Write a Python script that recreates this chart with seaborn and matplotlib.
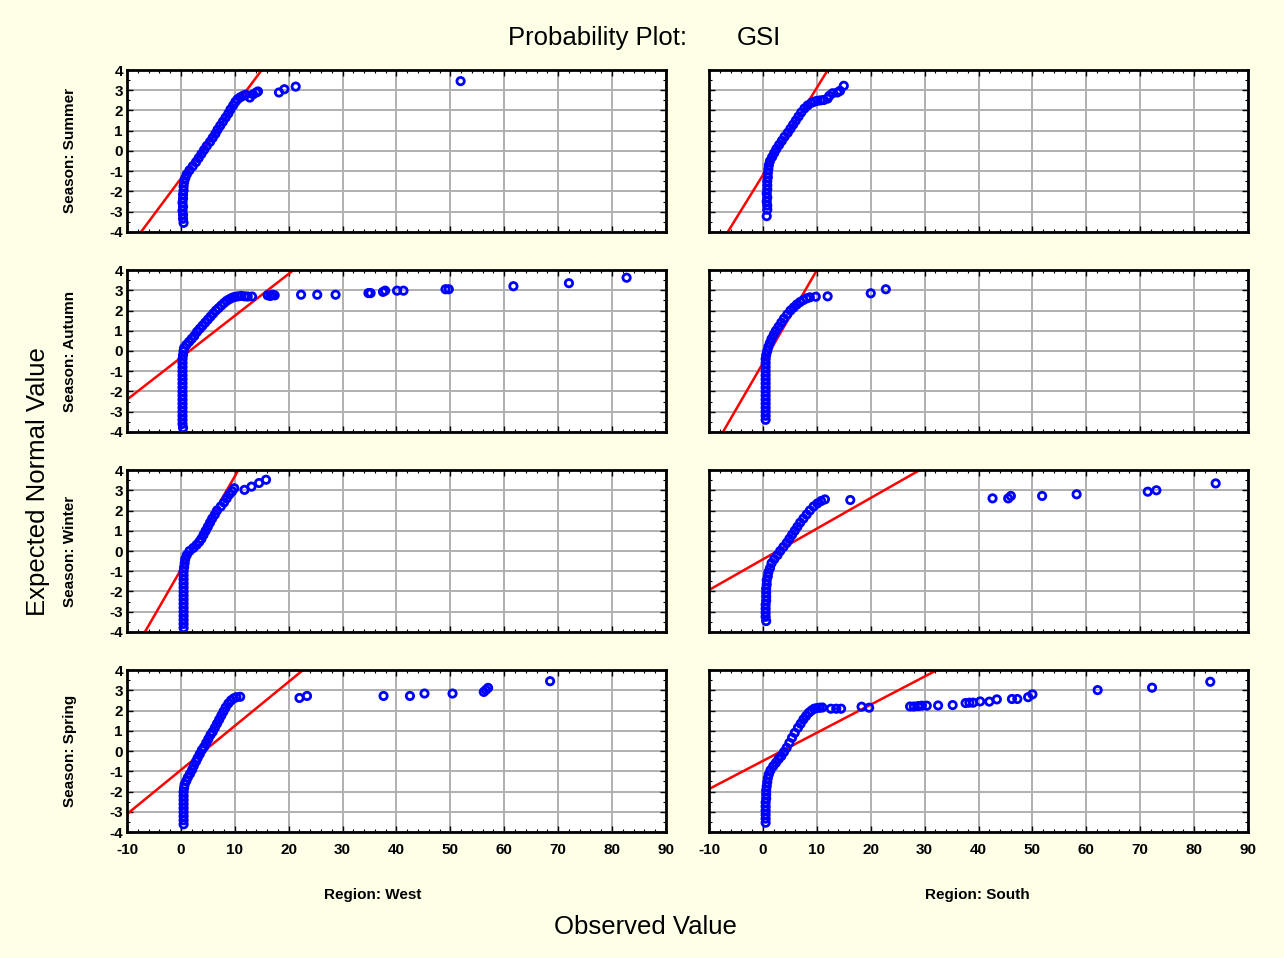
import numpy as np
import pandas as pd
import seaborn as sns
import matplotlib.pyplot as plt
from matplotlib.ticker import MultipleLocator

# panel layout: rows are seasons, columns are regions
seasons = ['Summer', 'Autumn', 'Winter', 'Spring']
regions = ['West', 'South']

summer_west_obs = [0.5, 0.4, 0.4, 0.3, 0.4, 0.3, 0.4, 0.4, 0.5, 0.5, 0.6,
                   0.8, 1.1, 1.6, 2.2, 2.8, 3.3, 3.8, 4.3, 4.8, 5.4, 5.9, 6.4, 6.8, 7.3, 7.8, 8.3,
                   8.8, 9.2, 9.7, 10.1, 10.5, 11.0, 11.5, 12.0,
                   12.8, 13.4, 14.0, 14.3, 18.2, 19.2, 21.3, 51.9]
summer_west_exp = [-3.55, -3.35, -3.15, -2.95, -2.75, -2.55, -2.35, -2.15, -1.95, -1.75, -1.55,
                   -1.35, -1.15, -0.95, -0.75, -0.55, -0.35, -0.15, 0.05, 0.25, 0.45, 0.65, 0.85, 1.05,
                   1.25, 1.45, 1.65, 1.85, 2.05, 2.25, 2.42, 2.55, 2.65, 2.72, 2.78,
                   2.64, 2.8, 2.89, 2.94, 2.89, 3.05, 3.18, 3.45]

summer_south_obs = [0.7, 0.8, 0.8, 0.7, 0.8, 0.7, 0.8, 0.8, 0.8, 0.9, 0.9,
                    1.0, 1.1, 1.3, 1.7, 2.1, 2.5, 3.0, 3.5, 4.0, 4.6, 5.1, 5.6, 6.1, 6.6, 7.1, 7.7, 8.3, 9.0,
                    9.6, 10.1, 10.7, 11.3, 12.0, 12.3, 12.9, 13.8, 14.3, 15.0]
summer_south_exp = [-3.22, -2.9, -2.7, -2.5, -2.3, -2.1, -1.9, -1.7, -1.5, -1.3, -1.1,
                    -0.9, -0.7, -0.5, -0.3, -0.1, 0.1, 0.3, 0.5, 0.7, 0.9, 1.1, 1.3, 1.5, 1.7, 1.9, 2.1, 2.25, 2.38,
                    2.44, 2.48, 2.5, 2.52, 2.59, 2.72, 2.85, 2.89, 2.97, 3.22]

autumn_west_obs = [0.4, 0.3, 0.3, 0.3, 0.3, 0.3, 0.3, 0.3, 0.3, 0.3, 0.3, 0.3, 0.3, 0.3, 0.3, 0.3, 0.3, 0.3,
                   0.4, 0.5, 0.6,
                   1.0, 1.5, 2.0, 2.5, 3.0, 3.5, 4.0, 4.5, 5.0, 5.5, 6.0, 6.5, 7.0, 7.5, 8.0, 8.5, 9.0, 9.5,
                   10.0, 10.6, 11.2, 11.8, 12.4, 13.2,
                   16.1, 16.6, 17.0, 17.4, 22.3, 25.3, 28.7, 34.8, 35.2, 37.5, 37.9, 40.1, 41.3, 49.1, 49.7,
                   61.7, 72.0, 82.7]
autumn_west_exp = [-3.8, -3.6, -3.4, -3.2, -3.0, -2.8, -2.6, -2.4, -2.2, -2.0, -1.8, -1.6, -1.4, -1.2, -1.0,
                   -0.8, -0.6, -0.4, -0.2, 0.0, 0.15,
                   0.3, 0.45, 0.6, 0.75, 0.95, 1.1, 1.25, 1.4, 1.55, 1.7, 1.85, 2.0, 2.12, 2.25, 2.37, 2.48,
                   2.56, 2.63, 2.67, 2.7, 2.72, 2.7, 2.69, 2.69,
                   2.75, 2.72, 2.78, 2.75, 2.78, 2.78, 2.78, 2.86, 2.86, 2.92, 2.98, 2.98, 2.98, 3.05, 3.05,
                   3.2, 3.35, 3.62]

autumn_south_obs = [0.5, 0.5, 0.5, 0.5, 0.5, 0.5, 0.5, 0.5, 0.5, 0.5, 0.5, 0.5, 0.5, 0.5, 0.5, 0.5,
                    0.6, 0.8, 1.0, 1.3, 1.6, 2.0, 2.4, 2.9, 3.4, 3.9, 4.5, 5.1, 5.7, 6.3, 6.9, 7.5, 8.1, 8.7,
                    9.8, 12.0, 20.0, 22.8]
autumn_south_exp = [-3.4, -3.2, -3.0, -2.8, -2.6, -2.4, -2.2, -2.0, -1.8, -1.6, -1.4, -1.2, -1.0, -0.8,
                    -0.6, -0.4,
                    -0.2, 0.0, 0.2, 0.4, 0.6, 0.8, 1.0, 1.2, 1.4, 1.6, 1.8, 2.0, 2.15, 2.3, 2.42, 2.52, 2.6, 2.65,
                    2.68, 2.7, 2.85, 3.05]

winter_west_obs = [0.5, 0.5, 0.5, 0.5, 0.5, 0.5, 0.5, 0.5, 0.5, 0.5, 0.5, 0.5, 0.5, 0.5, 0.5,
                   0.6, 0.7, 0.8, 1.1, 1.6, 2.3, 2.9, 3.4, 3.8, 4.2, 4.6, 5.0, 5.4, 5.8, 6.3, 6.7, 7.4, 8.0,
                   8.5, 9.0, 9.5, 9.9,
                   11.8, 13.1, 14.5, 15.8]
winter_west_exp = [-3.8, -3.6, -3.4, -3.2, -3.0, -2.8, -2.6, -2.4, -2.2, -2.0, -1.8, -1.6, -1.4, -1.2, -1.0,
                   -0.8, -0.6, -0.4, -0.2, 0.0, 0.15, 0.3, 0.45, 0.6, 0.8, 1.0, 1.2, 1.4, 1.6, 1.8, 2.0, 2.2,
                   2.4, 2.6, 2.8, 2.95, 3.1,
                   3.02, 3.18, 3.36, 3.52]

winter_south_obs = [0.6, 0.5, 0.5, 0.5, 0.5, 0.6, 0.6, 0.6, 0.6, 0.7, 0.7, 0.9,
                    1.0, 1.3, 1.6, 2.1, 2.7, 3.2, 3.8, 4.4, 4.9, 5.4, 5.9, 6.4, 6.9, 7.5, 8.1, 8.7, 9.4,
                    10.1, 10.8, 11.5,
                    16.2, 42.6, 45.5, 46.0, 51.8, 58.2, 71.4, 73.0, 84.0]
winter_south_exp = [-3.46, -3.25, -3.05, -2.85, -2.65, -2.45, -2.25, -2.05, -1.85, -1.65, -1.45, -1.25,
                    -1.05, -0.85, -0.6, -0.4, -0.2, 0.0, 0.2, 0.4, 0.6, 0.8, 1.0, 1.2, 1.4, 1.6, 1.8, 2.0,
                    2.2, 2.35, 2.47, 2.55,
                    2.52, 2.6, 2.6, 2.72, 2.72, 2.8, 2.93, 3.0, 3.34]

spring_west_obs = [0.5, 0.5, 0.5, 0.5, 0.5, 0.5, 0.5, 0.5, 0.5, 0.6,
                   0.7, 1.0, 1.3, 1.7, 2.1, 2.4, 2.8, 3.1, 3.5, 3.9, 4.3, 4.7, 5.1, 5.5, 5.9, 6.3, 6.7, 7.1,
                   7.5, 7.9, 8.3, 8.8, 9.3, 9.8, 10.3, 11.0,
                   22.0, 23.4, 37.6, 42.5, 45.2, 50.4, 56.2, 56.6, 57.0, 68.5]
spring_west_exp = [-3.62, -3.42, -3.22, -3.02, -2.82, -2.62, -2.42, -2.22, -2.02, -1.82,
                   -1.65, -1.48, -1.3, -1.12, -0.92, -0.72, -0.52, -0.35, -0.15, 0.05, 0.2, 0.4, 0.6, 0.8,
                   0.95, 1.15, 1.35, 1.55, 1.75, 1.95, 2.15, 2.35, 2.5, 2.6, 2.66, 2.68,
                   2.62, 2.72, 2.72, 2.72, 2.84, 2.84, 2.92, 3.02, 3.12, 3.45]

spring_south_obs = [0.5, 0.5, 0.5, 0.5, 0.5, 0.5, 0.6, 0.6, 0.6, 0.7, 0.8, 0.9,
                    1.1, 1.4, 1.9, 2.4, 2.9, 3.4, 3.9, 4.4, 4.9, 5.4, 5.9, 6.5, 7.0, 7.5, 8.0, 8.5, 9.0,
                    9.5, 10.0, 10.5, 11.0,
                    12.6, 13.6, 14.5, 18.3, 19.7, 27.3, 28.0, 28.8, 29.5, 30.4, 32.5, 35.2, 37.6, 38.3,
                    39.0, 40.3, 42.0, 43.4, 46.2, 47.2, 49.2, 50.0, 62.1, 72.2, 83.0]
spring_south_exp = [-3.54, -3.34, -3.14, -2.94, -2.74, -2.54, -2.34, -2.14, -1.94, -1.74, -1.54, -1.34,
                    -1.15, -0.95, -0.75, -0.58, -0.4, -0.25, -0.05, 0.16, 0.4, 0.66, 0.9, 1.15, 1.35, 1.56,
                    1.73, 1.89, 2.0, 2.09, 2.12, 2.14, 2.15,
                    2.09, 2.09, 2.09, 2.19, 2.14, 2.2, 2.2, 2.22, 2.24, 2.24, 2.25, 2.27, 2.37, 2.39,
                    2.39, 2.45, 2.44, 2.55, 2.57, 2.57, 2.66, 2.8, 3.01, 3.13, 3.42]

# fitted normal reference line per panel: expected = (observed - mean) / sd
fit_mean_west = [3.8, 1.6, 2.0, 4.3]
fit_sd_west = [2.8, 4.83, 2.17, 4.59]
fit_mean_south = [2.75, 1.3, 2.7, 3.5]
fit_sd_south = [2.32, 2.18, 6.6, 7.2]

x_range = [-10, 90]

# long-form table
panels = {
    ('Summer', 'West'): (summer_west_obs, summer_west_exp),
    ('Summer', 'South'): (summer_south_obs, summer_south_exp),
    ('Autumn', 'West'): (autumn_west_obs, autumn_west_exp),
    ('Autumn', 'South'): (autumn_south_obs, autumn_south_exp),
    ('Winter', 'West'): (winter_west_obs, winter_west_exp),
    ('Winter', 'South'): (winter_south_obs, winter_south_exp),
    ('Spring', 'West'): (spring_west_obs, spring_west_exp),
    ('Spring', 'South'): (spring_south_obs, spring_south_exp),
}
df = pd.concat([pd.DataFrame({'Season': s, 'Region': r, 'Observed': o, 'Expected': e})
                for (s, r), (o, e) in panels.items()], ignore_index=True)

fits = {}
for i, s in enumerate(seasons):
    fits[(s, 'West')] = (fit_mean_west[i], fit_sd_west[i])
    fits[(s, 'South')] = (fit_mean_south[i], fit_sd_south[i])

sns.set_theme(style='white')
plt.rcParams['font.family'] = ['Liberation Sans', 'DejaVu Sans']
plt.rcParams['font.weight'] = 'bold'
plt.rcParams['axes.unicode_minus'] = False
plt.rcParams['text.color'] = 'black'
plt.rcParams['xtick.color'] = 'black'
plt.rcParams['ytick.color'] = 'black'

bg = '#ffffe8'
fig, axes = plt.subplots(4, 2, figsize=(12.84, 9.58), dpi=100, sharex=True, sharey=True)
fig.patch.set_facecolor(bg)
fig.subplots_adjust(left=127 / 1284, right=1248 / 1284, top=1 - 70 / 958, bottom=1 - 832 / 958,
                    wspace=0.08, hspace=0.235)

for i, season in enumerate(seasons):
    for j, region in enumerate(regions):
        ax = axes[i, j]
        ax.set_facecolor('white')
        sub = df[(df['Season'] == season) & (df['Region'] == region)]

        mu, sd = fits[(season, region)]
        line_x = np.array(x_range, dtype=float)
        sns.lineplot(x=line_x, y=(line_x - mu) / sd, ax=ax, color='red', linewidth=1.8, zorder=2)

        sns.scatterplot(data=sub, x='Observed', y='Expected', ax=ax, marker='o', s=28,
                        color='blue', facecolor='none', edgecolor='blue', linewidth=2.0, zorder=3)

        ax.set_xlim(-10, 90)
        ax.set_ylim(-4, 4)
        ax.xaxis.set_major_locator(MultipleLocator(10))
        ax.xaxis.set_minor_locator(MultipleLocator(2))
        ax.yaxis.set_major_locator(MultipleLocator(1))
        ax.yaxis.set_minor_locator(MultipleLocator(0.5))
        ax.grid(True, which='major', color='#b0b0b0', linewidth=1.4, zorder=0)
        ax.set_axisbelow(True)
        ax.tick_params(which='major', direction='in', length=4, width=1, color='black',
                       labelcolor='black', top=True, right=True, bottom=True, left=True, labelsize=11)
        ax.tick_params(which='minor', direction='in', length=2.5, width=0.8, color='black',
                       top=True, right=True, bottom=True, left=True)
        ax.tick_params(axis='x', pad=8)
        ax.tick_params(axis='y', pad=3)
        for sp in ax.spines.values():
            sp.set_color('black')
            sp.set_linewidth(2)
        ax.set_xlabel('')
        ax.set_ylabel('')

        if j == 0:
            pos = ax.get_position()
            fig.text(70 / 1284, (pos.y0 + pos.y1) / 2, f'Season: {season}', rotation=90,
                     ha='center', va='center', fontsize=11, fontweight='bold')

fig.text(508 / 1284, 1 - 38 / 958, 'Probability Plot:', ha='left', va='center',
         fontsize=18.5, fontweight='normal')
fig.text(737 / 1284, 1 - 38 / 958, 'GSI', ha='left', va='center', fontsize=18.5, fontweight='normal')
fig.text(38 / 1284, 1 - 482 / 958, 'Expected Normal Value', rotation=90, ha='center', va='center',
         fontsize=18.5, fontweight='normal')
fig.text(645 / 1284, 1 - 927 / 958, 'Observed Value', ha='center', va='center',
         fontsize=18.5, fontweight='normal')
fig.text(373 / 1284, 1 - 895 / 958, 'Region: West', ha='center', va='center', fontsize=11, fontweight='bold')
fig.text(977 / 1284, 1 - 895 / 958, 'Region: South', ha='center', va='center', fontsize=11, fontweight='bold')

fig.savefig('out.png', dpi=100, facecolor=fig.get_facecolor())
